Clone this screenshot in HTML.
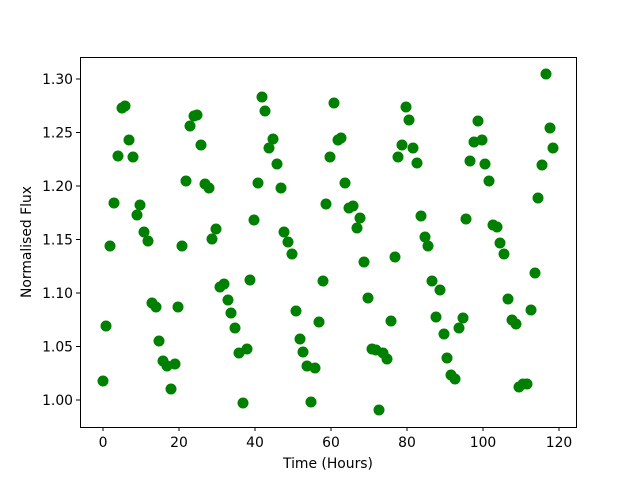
<!DOCTYPE html>
<html><head><meta charset="utf-8"><style>html,body{margin:0;padding:0;background:#fff}</style></head><body>
<svg width="640" height="480" xmlns="http://www.w3.org/2000/svg" font-family="DejaVu Sans, Liberation Sans, sans-serif" font-size="13.9">
<rect width="640" height="480" fill="#fff"/>
<g fill="#008000">
<circle cx="103" cy="381" r="5.5"/><circle cx="106" cy="326" r="5.5"/><circle cx="110" cy="246" r="5.5"/><circle cx="114" cy="203" r="5.5"/><circle cx="118" cy="156" r="5.5"/><circle cx="122" cy="108" r="5.5"/><circle cx="125" cy="106" r="5.5"/><circle cx="129" cy="140" r="5.5"/><circle cx="133" cy="157" r="5.5"/><circle cx="137" cy="215" r="5.5"/><circle cx="140" cy="205" r="5.5"/><circle cx="144" cy="232" r="5.5"/><circle cx="148" cy="241" r="5.5"/><circle cx="152" cy="303" r="5.5"/><circle cx="156" cy="307" r="5.5"/><circle cx="159" cy="341" r="5.5"/><circle cx="163" cy="361" r="5.5"/><circle cx="167" cy="366" r="5.5"/><circle cx="171" cy="389" r="5.5"/><circle cx="175" cy="364" r="5.5"/><circle cx="178" cy="307" r="5.5"/><circle cx="182" cy="246" r="5.5"/><circle cx="186" cy="181" r="5.5"/><circle cx="190" cy="126" r="5.5"/><circle cx="194" cy="116" r="5.5"/><circle cx="197" cy="115" r="5.5"/><circle cx="201" cy="145" r="5.5"/><circle cx="205" cy="184" r="5.5"/><circle cx="209" cy="188" r="5.5"/><circle cx="212" cy="239" r="5.5"/><circle cx="216" cy="229" r="5.5"/><circle cx="220" cy="287" r="5.5"/><circle cx="224" cy="284" r="5.5"/><circle cx="228" cy="300" r="5.5"/><circle cx="231" cy="313" r="5.5"/><circle cx="235" cy="328" r="5.5"/><circle cx="239" cy="353" r="5.5"/><circle cx="243" cy="403" r="5.5"/><circle cx="247" cy="349" r="5.5"/><circle cx="250" cy="280" r="5.5"/><circle cx="254" cy="220" r="5.5"/><circle cx="258" cy="183" r="5.5"/><circle cx="262" cy="97" r="5.5"/><circle cx="265" cy="111" r="5.5"/><circle cx="269" cy="148" r="5.5"/><circle cx="273" cy="139" r="5.5"/><circle cx="277" cy="164" r="5.5"/><circle cx="281" cy="188" r="5.5"/><circle cx="284" cy="232" r="5.5"/><circle cx="288" cy="242" r="5.5"/><circle cx="292" cy="254" r="5.5"/><circle cx="296" cy="311" r="5.5"/><circle cx="300" cy="339" r="5.5"/><circle cx="303" cy="352" r="5.5"/><circle cx="307" cy="366" r="5.5"/><circle cx="311" cy="402" r="5.5"/><circle cx="315" cy="368" r="5.5"/><circle cx="319" cy="322" r="5.5"/><circle cx="323" cy="281" r="5.5"/><circle cx="326" cy="204" r="5.5"/><circle cx="330" cy="157" r="5.5"/><circle cx="334" cy="103" r="5.5"/><circle cx="338" cy="140" r="5.5"/><circle cx="341" cy="138" r="5.5"/><circle cx="345" cy="183" r="5.5"/><circle cx="349" cy="208" r="5.5"/><circle cx="353" cy="206" r="5.5"/><circle cx="357" cy="228" r="5.5"/><circle cx="360" cy="218" r="5.5"/><circle cx="364" cy="262" r="5.5"/><circle cx="368" cy="298" r="5.5"/><circle cx="372" cy="349" r="5.5"/><circle cx="376" cy="350" r="5.5"/><circle cx="379" cy="410" r="5.5"/><circle cx="383" cy="353" r="5.5"/><circle cx="387" cy="359" r="5.5"/><circle cx="391" cy="321" r="5.5"/><circle cx="395" cy="257" r="5.5"/><circle cx="398" cy="157" r="5.5"/><circle cx="402" cy="145" r="5.5"/><circle cx="406" cy="107" r="5.5"/><circle cx="409" cy="120" r="5.5"/><circle cx="413" cy="148" r="5.5"/><circle cx="417" cy="163" r="5.5"/><circle cx="421" cy="216" r="5.5"/><circle cx="425" cy="237" r="5.5"/><circle cx="428" cy="246" r="5.5"/><circle cx="432" cy="281" r="5.5"/><circle cx="436" cy="317" r="5.5"/><circle cx="440" cy="290" r="5.5"/><circle cx="444" cy="334" r="5.5"/><circle cx="447" cy="358" r="5.5"/><circle cx="451" cy="375" r="5.5"/><circle cx="455" cy="379" r="5.5"/><circle cx="459" cy="328" r="5.5"/><circle cx="463" cy="318" r="5.5"/><circle cx="466" cy="219" r="5.5"/><circle cx="470" cy="161" r="5.5"/><circle cx="474" cy="142" r="5.5"/><circle cx="478" cy="121" r="5.5"/><circle cx="482" cy="140" r="5.5"/><circle cx="485" cy="164" r="5.5"/><circle cx="489" cy="181" r="5.5"/><circle cx="493" cy="225" r="5.5"/><circle cx="497" cy="227" r="5.5"/><circle cx="500" cy="243" r="5.5"/><circle cx="504" cy="254" r="5.5"/><circle cx="508" cy="299" r="5.5"/><circle cx="512" cy="320" r="5.5"/><circle cx="516" cy="324" r="5.5"/><circle cx="519" cy="387" r="5.5"/><circle cx="523" cy="384" r="5.5"/><circle cx="527" cy="384" r="5.5"/><circle cx="531" cy="310" r="5.5"/><circle cx="535" cy="273" r="5.5"/><circle cx="538" cy="198" r="5.5"/><circle cx="542" cy="165" r="5.5"/><circle cx="546" cy="74" r="5.5"/><circle cx="550" cy="128" r="5.5"/><circle cx="553" cy="148" r="5.5"/>
</g>
<rect x="80.5" y="57.5" width="496" height="370" fill="none" stroke="#000" stroke-width="1"/>
<g stroke="#000" stroke-width="1">
<line x1="103" y1="427" x2="103" y2="431"/><line x1="179" y1="427" x2="179" y2="431"/><line x1="255" y1="427" x2="255" y2="431"/><line x1="331" y1="427" x2="331" y2="431"/><line x1="407" y1="427" x2="407" y2="431"/><line x1="483" y1="427" x2="483" y2="431"/><line x1="559" y1="427" x2="559" y2="431"/>
<line x1="76" y1="400" x2="80" y2="400"/><line x1="76" y1="346.5" x2="80" y2="346.5"/><line x1="76" y1="293" x2="80" y2="293"/><line x1="76" y1="239.5" x2="80" y2="239.5"/><line x1="76" y1="186" x2="80" y2="186"/><line x1="76" y1="132.5" x2="80" y2="132.5"/><line x1="76" y1="79" x2="80" y2="79"/>
</g>
<g text-anchor="middle">
<text x="103" y="447">0</text><text x="179" y="447">20</text><text x="255" y="447">40</text><text x="331" y="447">60</text><text x="407" y="447">80</text><text x="483" y="447">100</text><text x="559" y="447">120</text>
<text x="328" y="468">Time (Hours)</text>
</g>
<g text-anchor="end">
<text x="73" y="405">1.00</text><text x="73" y="351.5">1.05</text><text x="73" y="298">1.10</text><text x="73" y="244.5">1.15</text><text x="73" y="191">1.20</text><text x="73" y="137.5">1.25</text><text x="73" y="84">1.30</text>
</g>
<text transform="translate(31,242) rotate(-90)" text-anchor="middle">Normalised Flux</text>
</svg>
</body></html>
